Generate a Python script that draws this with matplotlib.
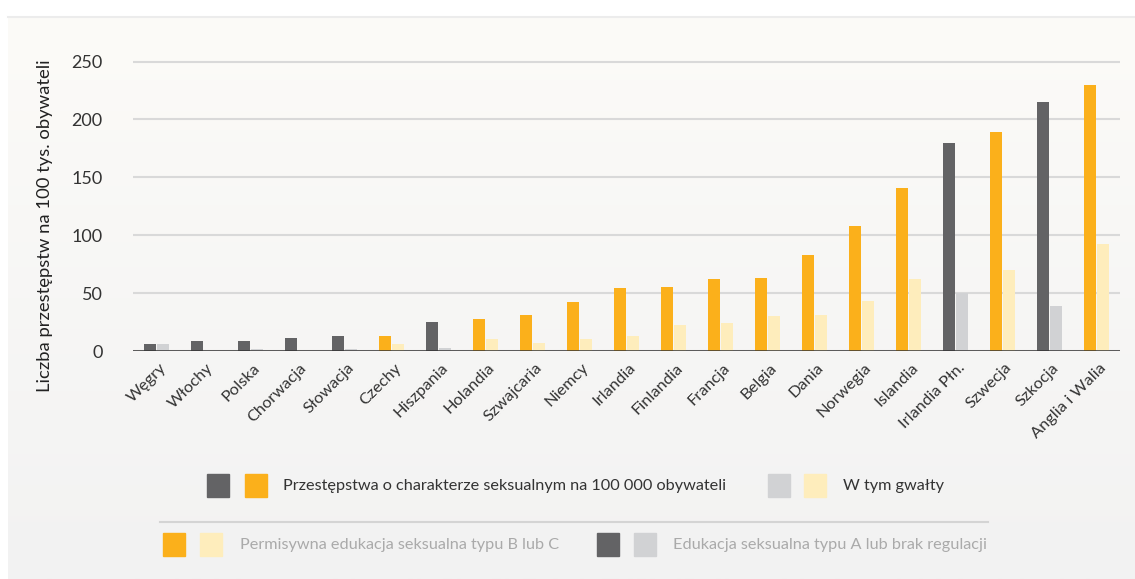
import matplotlib.pyplot as plt
import numpy as np
from matplotlib.patches import Rectangle
from matplotlib.lines import Line2D

plt.rcParams['font.family'] = ['Lato', 'DejaVu Sans']

# data
countries = ["Węgry", "Włochy", "Polska", "Chorwacja", "Słowacja", "Czechy", "Hiszpania",
             "Holandia", "Szwajcaria", "Niemcy", "Irlandia", "Finlandia", "Francja", "Belgia",
             "Dania", "Norwegia", "Islandia", "Irlandia Płn.", "Szwecja", "Szkocja", "Anglia i Walia"]
sexual_crimes = [6, 9, 9, 11, 13, 13, 25, 28, 31, 42, 54.5, 55.5, 62, 63, 83, 108, 141, 180, 189, 215, 230]
rapes = [6, 0, 1.5, 0, 1.5, 6, 2.5, 10, 7, 10, 13, 22.5, 24, 30, 31, 43, 62, 50, 70, 39, 92]
# "A" = edukacja typu A / brak regulacji, "B" = permisywna typu B lub C
edu_type = ["A", "A", "A", "A", "A", "B", "A", "B", "B", "B", "B", "B", "B", "B",
            "B", "B", "B", "A", "B", "A", "B"]

DARK, GRAY = "#636365", "#d1d2d4"
ORANGE, YELLOW = "#fbb01b", "#feedbc"

W, H = 1135, 579
fig = plt.figure(figsize=(W / 100, H / 100), dpi=100)
fig.patch.set_facecolor("white")


def fx(x):
    return x / W


def fy(y):
    return 1 - y / H


# panel background with soft gradient
bg = fig.add_axes([fx(8), 0, 1 - fx(8), fy(17)], zorder=-10)
grad = np.linspace(0, 1, 256).reshape(-1, 1)
top = np.array([252, 251, 248]) / 255
bot = np.array([242, 242, 242]) / 255
img = top + (bot - top) * grad[:, :, None]
bg.imshow(img, aspect="auto", extent=[0, 1, 0, 1])
bg.axis("off")
fig.add_artist(Line2D([fx(8), 1], [fy(17), fy(17)], color="#ececec", lw=1.5, zorder=-9))

ax = fig.add_axes([fx(133), fy(351), fx(1120) - fx(133), fy(50) - fy(351)])
ax.set_facecolor("none")

n = len(countries)
x = np.arange(n)
bw = 0.255
main_col = [DARK if t == "A" else ORANGE for t in edu_type]
light_col = [GRAY if t == "A" else YELLOW for t in edu_type]
ax.bar(x - 0.135, sexual_crimes, width=bw, color=main_col, zorder=3)
ax.bar(x + 0.14, rapes, width=bw, color=light_col, zorder=3)

ax.set_xlim(-0.5, n - 0.5)
ax.set_ylim(0, 260)
ax.set_yticks(np.arange(0, 251, 50))
ax.yaxis.grid(True, color="#d9d9d9", lw=1.5, zorder=0)
ax.axhline(0, color="#333333", lw=1.8, zorder=4)
for s in ax.spines.values():
    s.set_visible(False)
ax.tick_params(axis="y", length=0, labelsize=13, labelcolor="#333333", pad=22)
ax.tick_params(axis="x", length=0, labelsize=11.8, labelcolor="#333333", pad=7)
ax.set_xticks(x + 0.05)
ax.set_xticklabels(countries, rotation=45, ha="right", rotation_mode="anchor")

fig.text(fx(45), fy(226), "Liczba przestępstw na 100 tys. obywateli", rotation=90,
         ha="center", va="center", fontsize=13.3, color="#222222")


def square(x0, y0, col):
    fig.add_artist(Rectangle((fx(x0), fy(y0 + 23)), fx(22), 23 / H, color=col,
                             transform=fig.transFigure))


# legend row 1
square(207, 474, DARK)
square(245, 474, ORANGE)
fig.text(fx(283), fy(486), "Przestępstwa o charakterze seksualnym na 100 000 obywateli",
         ha="left", va="center", fontsize=11.7, color="#333333")
square(768, 474, GRAY)
square(804, 474, YELLOW)
fig.text(fx(843), fy(486), "W tym gwałty", ha="left", va="center", fontsize=11.7, color="#333333")

fig.add_artist(Line2D([fx(160), fx(988)], [fy(522), fy(522)], color="#d4d4d4", lw=1.5))

# legend row 2
square(163, 533, ORANGE)
square(200, 533, YELLOW)
fig.text(fx(240), fy(545), "Permisywna edukacja seksualna typu B lub C",
         ha="left", va="center", fontsize=11.7, color="#aaaaaa")
square(597, 533, DARK)
square(634, 533, GRAY)
fig.text(fx(673), fy(545), "Edukacja seksualna typu A lub brak regulacji",
         ha="left", va="center", fontsize=11.7, color="#aaaaaa")

plt.savefig("out.png", dpi=100, facecolor=fig.get_facecolor())
